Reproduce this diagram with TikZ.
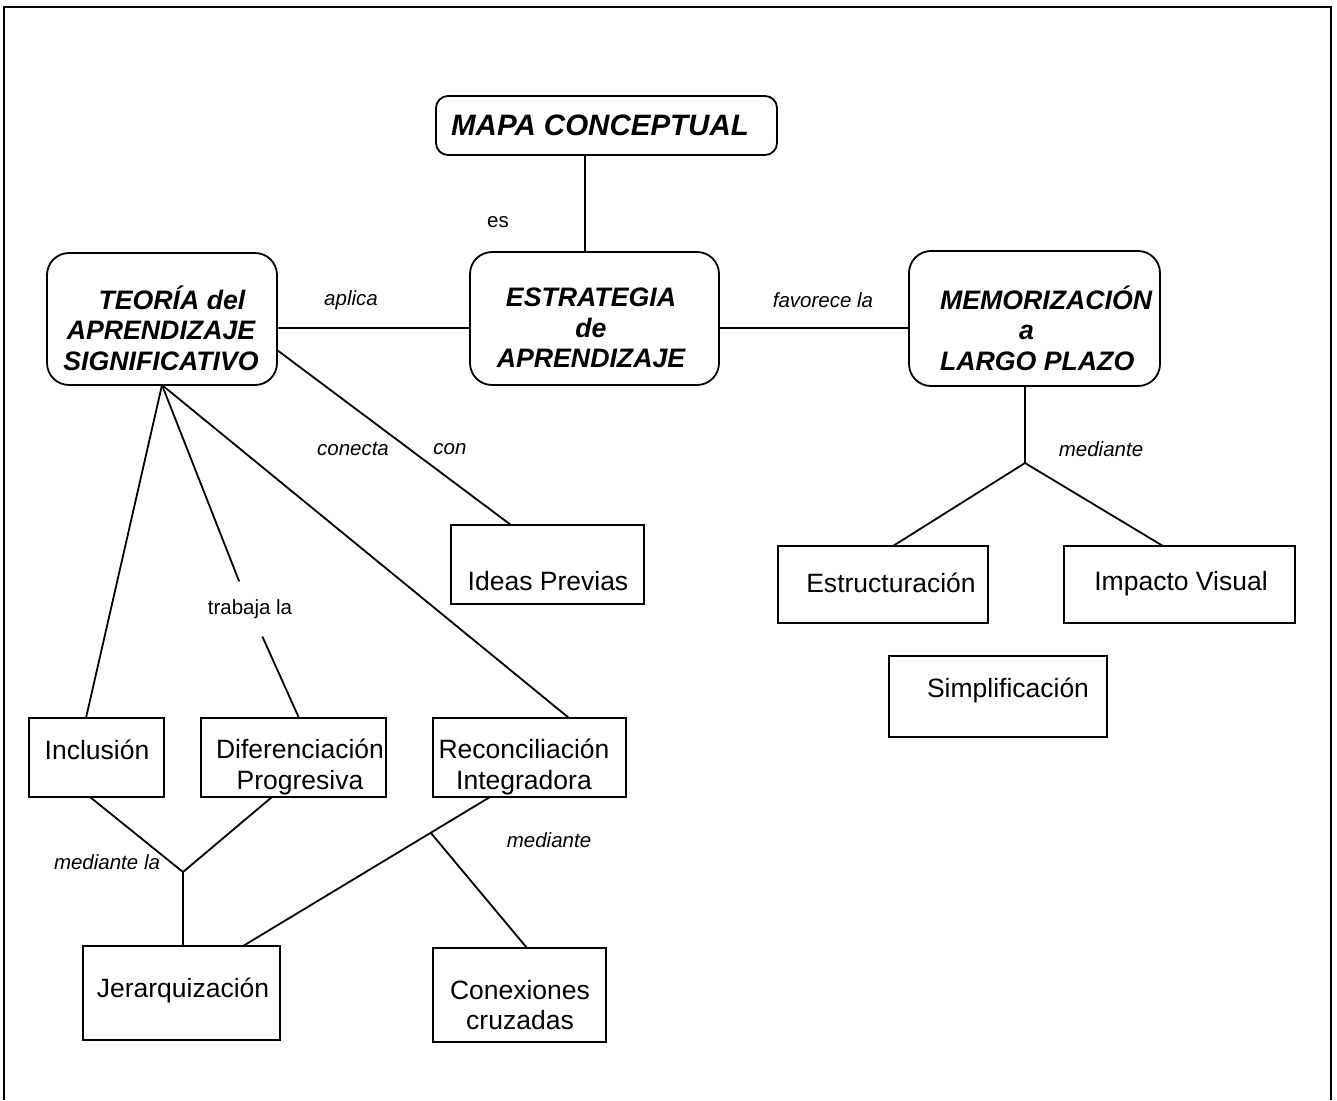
\documentclass[tikz,border=0pt]{standalone}
\usepackage{fontspec}
\setmainfont{Liberation Sans}
\usetikzlibrary{calc}

\begin{document}
\begin{tikzpicture}[x=1pt,y=-1pt,
  every node/.style={inner sep=0pt, outer sep=0pt},
  conn/.style={line width=1.8pt},
  concept/.style={draw, line width=1.8pt, rounded corners=22pt},
  term/.style={draw, line width=1.8pt},
  bigtext/.style={font=\fontsize{26.7}{30.5}\selectfont\bfseries\itshape, align=center},
  boxtext/.style={font=\fontsize{26.5}{30.5}\selectfont, align=center},
  linkit/.style={font=\fontsize{20.5}{24}\selectfont\itshape},
  linkup/.style={font=\fontsize{20.5}{24}\selectfont},
]
\useasboundingbox (0,0) rectangle (1337,1100);

% page frame (open at the bottom)
\draw[line width=2.2pt] (4,1100) -- (4,7) -- (1331,7) -- (1331,1100);

% ---- main concepts (rounded boxes)
\node[concept, rounded corners=12pt, minimum width=341pt, minimum height=59pt] (mapa) at (606.5,125.5) {};
\node[bigtext, font=\fontsize{29.5}{32}\selectfont\bfseries\itshape] (mapaT) at (600,125) {MAPA CONCEPTUAL};

\node[concept, minimum width=249pt, minimum height=133pt] (estr) at (594.5,318.5) {};
\node[bigtext] (estrT) at (591,328) {ESTRATEGIA\\de\\APRENDIZAJE};

\node[concept, minimum width=230pt, minimum height=132pt] (teoria) at (162,319) {};
\node[bigtext] (teoriaT) at (161,328) {\hspace*{22pt}TEORÍA del\\APRENDIZAJE\\SIGNIFICATIVO};

\node[concept, minimum width=251pt, minimum height=135pt] (memo) at (1034.5,318.5) {};
\node[bigtext, align=left, anchor=west] (memoT) at (940,328) {MEMORIZACIÓN\\\hspace*{79pt}a\\LARGO PLAZO};

% ---- terms (square boxes)
\node[term, minimum width=193pt, minimum height=79pt] (ideas) at (547.5,564.5) {};
\node[boxtext] (ideasT) at (548,581) {Ideas Previas};

\node[term, minimum width=210pt, minimum height=77pt] (estru) at (883,584.5) {};
\node[boxtext] (estruT) at (891,583) {Estructuración};

\node[term, minimum width=231pt, minimum height=77pt] (impacto) at (1179.5,584.5) {};
\node[boxtext] (impactoT) at (1181,584) {Impacto Visual};

\node[term, minimum width=218pt, minimum height=81pt] (simpl) at (998,696.5) {};
\node[boxtext] (simplT) at (1008,690) {Simplificación};

\node[term, minimum width=135pt, minimum height=79pt] (incl) at (96.5,757.5) {};
\node[boxtext] (inclT) at (97,750) {Inclusión};

\node[term, minimum width=185pt, minimum height=79pt] (dif) at (293.5,757.5) {};
\node[boxtext] (difT) at (300,767) {Diferenciación\\Progresiva};

\node[term, minimum width=193pt, minimum height=79pt] (recon) at (529.5,757.5) {};
\node[boxtext] (reconT) at (524,767) {Reconciliación\\Integradora};

\node[term, minimum width=197pt, minimum height=94pt] (jer) at (181.5,993) {};
\node[boxtext] (jerT) at (183,990) {Jerarquización};

\node[term, minimum width=173pt, minimum height=94pt] (conex) at (519.5,995) {};
\node[boxtext] (conexT) at (520,1005) {Conexiones\\cruzadas};

% ---- linking words
\node[linkup] (es) at (498,222) {es};
\node[linkit] (aplica) at (351,300) {aplica};
\node[linkit] (favorece) at (823,300) {favorece la};
\node[linkit] (medmemo) at (1101,449) {mediante};
\node[linkit] (conecta) at (353,449) {conecta};
\node[linkit] (con) at (450,449) {con};
\node[linkup, inner xsep=4pt, inner ysep=18pt] (trabaja) at (250,609) {trabaja la};
\node[linkit] (medla) at (107,862) {mediante la};
\node[linkit] (medrec) at (549,840) {mediante};

% ---- junction points
\coordinate (j1) at (1025,463);
\coordinate (j2) at (183,872);
\path ([xshift=-39.5pt]recon.south) coordinate (r1)
      ([xshift=61.5pt]jer.north) coordinate (jt);
\coordinate (j3) at ($(r1)!0.24!(jt)$);

% ---- connectors
\draw[conn] ([xshift=-21.5pt]mapa.south) -- ([xshift=-9.5pt]estr.north);
\draw[conn] ([yshift=-9pt]teoria.east) -- ([yshift=-9.5pt]estr.west);
\draw[conn] ([yshift=-9.5pt]estr.east) -- ([yshift=-9.5pt]memo.west);

\draw[conn] ([xshift=-9.5pt]memo.south) -- (j1);
\draw[conn] (j1) -- ([xshift=10pt]estru.north);
\draw[conn] (j1) -- ([xshift=-16.5pt]impacto.north);

\draw[conn] (teoria.south) -- ([xshift=-10.5pt]incl.north);
\draw[conn] (teoria.south) -- (trabaja) -- ([xshift=5.5pt]dif.north);
\draw[conn] (teoria.south) -- ([xshift=39.5pt]recon.north);
\draw[conn] ([yshift=-31pt]teoria.east) -- ([xshift=-36.5pt]ideas.north);

\draw[conn] ([xshift=-6.5pt]incl.south) -- (j2);
\draw[conn] ([xshift=-21.5pt]dif.south) -- (j2);
\draw[conn] (j2) -- ([xshift=1.5pt]jer.north);
\draw[conn] (r1) -- (jt);
\draw[conn] (j3) -- ([xshift=7.5pt]conex.north);
\end{tikzpicture}
\end{document}
